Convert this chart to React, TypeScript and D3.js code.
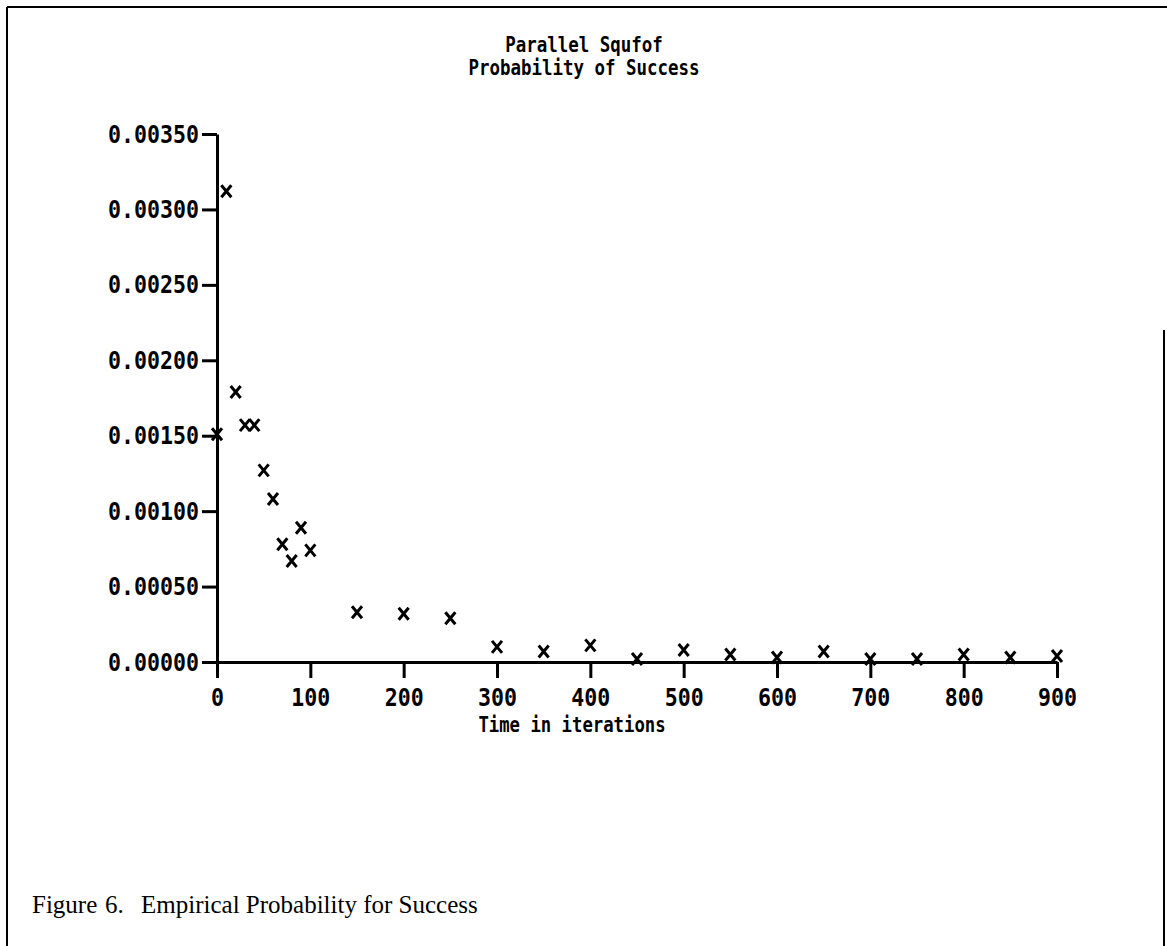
import React, { useEffect, useRef } from 'react';
import * as d3 from 'd3';

// iterations at which each sample was taken
const iterations = [0, 10, 20, 30, 40, 50, 60, 70, 80, 90, 100, 150, 200, 250, 300, 350, 400, 450, 500, 550, 600, 650, 700, 750, 800, 850, 900];
// empirical probability of success
const probability = [0.00151, 0.00312, 0.00179, 0.00157, 0.00157, 0.00127, 0.00108, 0.00078, 0.00067, 0.00089, 0.00074, 0.00033, 0.00032, 0.00029, 0.00010, 0.00007, 0.00011, 0.00002, 0.00008, 0.00005, 0.00003, 0.00007, 0.00002, 0.00002, 0.00005, 0.00003, 0.00004];

const xTicks = [0, 100, 200, 300, 400, 500, 600, 700, 800, 900];
const yTicks = [0, 0.0005, 0.001, 0.0015, 0.002, 0.0025, 0.003, 0.0035];

const titleLines = ['Parallel Squfof', 'Probability of Success'];
const xTitle = 'Time in iterations';

const W = 1167, H = 946;
const FONT = '"DejaVu Sans Mono", monospace';
const PITCH = 13;
const TPITCH = 10.5;

export default function App() {
  const ref = useRef<SVGSVGElement>(null);

  useEffect(() => {
    const svg = d3.select(ref.current);
    svg.selectAll('*').remove();

    const x = d3.scaleLinear().domain([0, 900]).range([217, 1057]);
    const y = d3.scaleLinear().domain([0, 0.0035]).range([662, 134]);

    // page frame (open at the bottom)
    const frame = svg.append('g').attr('stroke', '#000').attr('stroke-width', 2);
    frame.append('line').attr('x1', 7).attr('y1', 7).attr('x2', 7).attr('y2', H);
    frame.append('line').attr('x1', 7).attr('y1', 7).attr('x2', W).attr('y2', 7);
    frame.append('line').attr('x1', 1164).attr('y1', 330).attr('x2', 1164).attr('y2', H);

    // title
    svg.selectAll('.title').data(titleLines).join('text')
      .attr('class', 'title')
      .attr('x', 584)
      .attr('y', (d, i) => 52 + i * 23)
      .attr('text-anchor', 'middle')
      .attr('font-family', FONT)
      .attr('font-weight', 'bold')
      .attr('font-size', 22)
      .attr('textLength', d => d.length * TPITCH)
      .attr('lengthAdjust', 'spacingAndGlyphs')
      .text(d => d);

    const styleAxis = (g: any) => {
      g.select('.domain').attr('stroke-width', 3);
      g.selectAll('.tick line').attr('stroke-width', 3);
      g.selectAll('.tick text')
        .attr('font-family', FONT)
        .attr('font-weight', 'bold')
        .attr('font-size', 25)
        .attr('fill', '#000')
        .attr('textLength', (d: any, i: number, n: any) => n[i].textContent.length * PITCH)
        .attr('lengthAdjust', 'spacingAndGlyphs');
    };

    svg.append('g')
      .attr('transform', `translate(0,${y(0)})`)
      .call(d3.axisBottom(x).tickValues(xTicks).tickSize(16).tickSizeOuter(0).tickPadding(10).tickFormat(d3.format('d')))
      .call(styleAxis);

    svg.append('g')
      .attr('transform', `translate(${x(0)},0)`)
      .call(d3.axisLeft(y).tickValues(yTicks).tickSize(15).tickSizeOuter(0).tickPadding(3).tickFormat(d3.format('.5f')))
      .call(styleAxis);

    svg.append('text')
      .attr('x', 572)
      .attr('y', 732)
      .attr('text-anchor', 'middle')
      .attr('font-family', FONT)
      .attr('font-weight', 'bold')
      .attr('font-size', 21)
      .attr('textLength', xTitle.length * 10.4)
      .attr('lengthAdjust', 'spacingAndGlyphs')
      .text(xTitle);

    // x markers
    svg.append('g').selectAll('path')
      .data(iterations.map((t, i) => [t, probability[i]]))
      .join('path')
      .attr('transform', d => `translate(${x(d[0])},${y(d[1])})`)
      .attr('d', 'M-5,-6L5,6M5,-6L-5,6')
      .attr('fill', 'none')
      .attr('stroke', '#000')
      .attr('stroke-width', 3);

    // caption
    const cap = svg.append('text')
      .attr('y', 913)
      .attr('font-family', '"Liberation Serif", serif')
      .attr('font-size', 25);
    cap.append('tspan').attr('x', 32).text('Figure');
    cap.append('tspan').attr('x', 105).text('6.');
    cap.append('tspan').attr('x', 141).text('Empirical Probability for Success');
  }, []);

  return (
    <svg ref={ref} width={W} height={H} style={{ position: 'absolute', left: 0, top: 0, background: '#fff' }} />
  );
}
